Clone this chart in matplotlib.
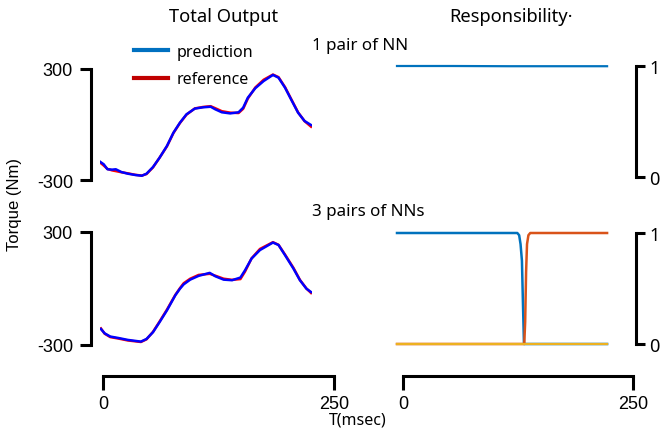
import numpy as np
import matplotlib
matplotlib.use("Agg")
import matplotlib.pyplot as plt
from matplotlib.lines import Line2D


# --------------------------------------------------
# Data
# --------------------------------------------------

# top left: 1 pair of NN, torque (Nm) vs time (ms)
t_top = [0, 4, 8, 13, 17, 23, 30, 38, 45, 50, 57, 64, 72, 79, 86, 93, 102,
         111, 119, 124, 131, 140, 149, 154, 159, 167, 176, 186, 192, 199,
         206, 213, 220, 227]
pred_top = [-201, -215, -242, -244, -242, -257, -266, -273, -277, -266,
            -230, -180, -116, -44, 10, 55, 86, 93, 96, 82, 66, 60, 66, 91,
            145, 196, 235, 268, 253, 199, 131, 64, 19, -3]
ref_top = [-205, -222, -240, -248, -252, -258, -264, -272, -276, -268,
           -232, -180, -118, -46, 8, 53, 87, 95, 99, 88, 72, 64, 62, 85,
           140, 200, 242, 270, 256, 202, 134, 66, 18, -12]

# bottom left: 3 pairs of NNs
t_bot = [1, 5, 11, 20, 30, 44, 50, 57, 64, 72, 81, 86, 90, 97, 106, 118,
         124, 133, 142, 151, 156, 163, 172, 186, 192, 199, 208, 215, 222, 227]
pred_bot = [-215, -238, -255, -263, -273, -282, -268, -232, -179, -116, -36,
            -1, 22, 47, 67, 83, 65, 47, 44, 58, 97, 159, 204, 244, 231, 177,
            106, 44, -1, -19]
ref_bot = [-212, -240, -258, -266, -276, -284, -270, -230, -176, -112, -34,
           2, 28, 52, 72, 78, 68, 52, 46, 50, 90, 160, 210, 246, 232, 180,
           110, 46, 0, -24]

# top right: responsibility of the single NN
t_resp1 = [0, 60, 120, 180, 227]
resp_single = [1.0, 1.0, 0.998, 0.998, 0.998]

# bottom right: responsibilities of the 3 NNs
t_nn1 = [0, 130, 132, 133.5, 135, 136, 137.2, 227]
resp_nn1 = [1, 1, 0.98, 0.9, 0.75, 0.4, 0, 0]
t_nn2 = [0, 137.5, 138.5, 139.5, 140.5, 142, 144, 227]
resp_nn2 = [0, 0, 0.2, 0.65, 0.9, 0.98, 1, 1]
t_nn3 = [0, 227]
resp_nn3 = [0, 0]

torque_ticks = [-300, 300]
resp_ticks = [0, 1]
time_ticks = [0, 250]

W, H = 665, 435
SANS = ["Noto Sans", "DejaVu Sans"]
ARIAL = ["Liberation Sans", "DejaVu Sans"]


def px_axes(fig, x0, y0, x1, y1):
    # axes from pixel box (top-left origin)
    return fig.add_axes([x0 / W, (H - y1) / H, (x1 - x0) / W, (y1 - y0) / H])


def style_torque(ax):
    for s in ["top", "right", "bottom"]:
        ax.spines[s].set_visible(False)
    ax.spines["left"].set_position(("outward", 6.5))
    ax.spines["left"].set_linewidth(2.2)
    ax.set_xlim(0, 228)
    ax.set_ylim(-300, 300)
    ax.set_xticks([])
    ax.set_yticks(torque_ticks)
    ax.set_yticklabels(["-300", "300"], family=ARIAL, fontsize=13)
    ax.tick_params(axis="y", length=8, width=2.2, pad=5, direction="out")
    ax.patch.set_visible(False)


def style_resp(ax):
    for s in ["top", "left", "bottom"]:
        ax.spines[s].set_visible(False)
    ax.spines["right"].set_position(("outward", 20))
    ax.spines["right"].set_linewidth(2.2)
    ax.set_xlim(0, 228)
    ax.set_ylim(0, 1)
    ax.set_xticks([])
    ax.yaxis.tick_right()
    ax.set_yticks(resp_ticks)
    ax.set_yticklabels(["0", "1"], family=SANS, fontsize=13)
    ax.tick_params(axis="y", length=6.5, width=2.2, pad=3, direction="out")
    ax.patch.set_visible(False)


def style_time(ax):
    for s in ["top", "left", "right"]:
        ax.spines[s].set_visible(False)
    ax.spines["bottom"].set_linewidth(2.2)
    ax.set_xlim(0, 250)
    ax.set_yticks([])
    ax.set_xticks(time_ticks)
    ax.set_xticklabels(["0", "250"], family=ARIAL, fontsize=13)
    ax.tick_params(axis="x", length=10, width=2.2, pad=4, direction="out")
    ax.patch.set_visible(False)


def main():

    fig = plt.figure(figsize=(W / 100, H / 100), dpi=100)

    # ----------------------------------
    # Total output (left column)
    # ----------------------------------

    ax = px_axes(fig, 100, 70, 312, 181)
    ax.plot(t_top, ref_top, color="red", linewidth=1.8)
    ax.plot(t_top, pred_top, color="blue", linewidth=1.8)
    style_torque(ax)

    ax = px_axes(fig, 100, 233, 312, 346)
    ax.plot(t_bot, ref_bot, color="red", linewidth=1.8)
    ax.plot(t_bot, pred_bot, color="blue", linewidth=1.8)
    style_torque(ax)

    # ----------------------------------
    # Responsibility (right column)
    # ----------------------------------

    ax = px_axes(fig, 397, 67, 608, 178)
    ax.plot(t_resp1, resp_single, color="#0072BD", linewidth=1.6,
            clip_on=False)
    style_resp(ax)

    ax = px_axes(fig, 397, 234, 608, 345)
    ax.plot(t_nn1, resp_nn1, color="#0072BD", linewidth=1.8, clip_on=False)
    ax.plot(t_nn2, resp_nn2, color="#D95319", linewidth=1.8, clip_on=False)
    ax.plot(t_nn3, resp_nn3, color="#EDB120", linewidth=1.6, clip_on=False)
    style_resp(ax)

    # ----------------------------------
    # Time axes
    # ----------------------------------

    style_time(px_axes(fig, 103, 370, 334, 377))
    style_time(px_axes(fig, 403, 370, 633, 377))

    # ----------------------------------
    # Texts and legend
    # ----------------------------------

    fig.text(224 / W, 1 - 17 / H, "Total Output", family=SANS,
             fontsize=13.2, fontweight="medium", ha="center", va="center")
    fig.text(511 / W, 1 - 17 / H, "Responsibility·", family=SANS,
             fontsize=13.2, fontweight="medium", ha="center", va="center")
    fig.text(360 / W, 1 - 46 / H, "1 pair of NN", family=SANS,
             fontsize=12.2, ha="center", va="center")
    fig.text(368 / W, 1 - 212 / H, "3 pairs of NNs", family=SANS,
             fontsize=12.2, ha="center", va="center")
    fig.text(358 / W, 1 - 421 / H, "T(msec)", family=SANS,
             fontsize=11.5, ha="center", va="center")
    fig.text(15 / W, 1 - 205 / H, "Torque (Nm)", family=ARIAL,
             fontsize=12, rotation=90, ha="center", va="center")

    handles = [
        Line2D([], [], color="#0070C0", linewidth=3),
        Line2D([], [], color="#C00000", linewidth=3),
    ]
    fig.legend(
        handles,
        ["prediction", "reference"],
        loc="upper left",
        bbox_to_anchor=(126 / W, 1 - 37 / H),
        frameon=False,
        prop={"family": SANS, "size": 11.5},
        handlelength=2.1,
        handletextpad=0.55,
        labelspacing=0.7,
        borderpad=0,
    )

    fig.savefig("out.png", dpi=100)
    plt.close(fig)


if __name__ == "__main__":
    main()
